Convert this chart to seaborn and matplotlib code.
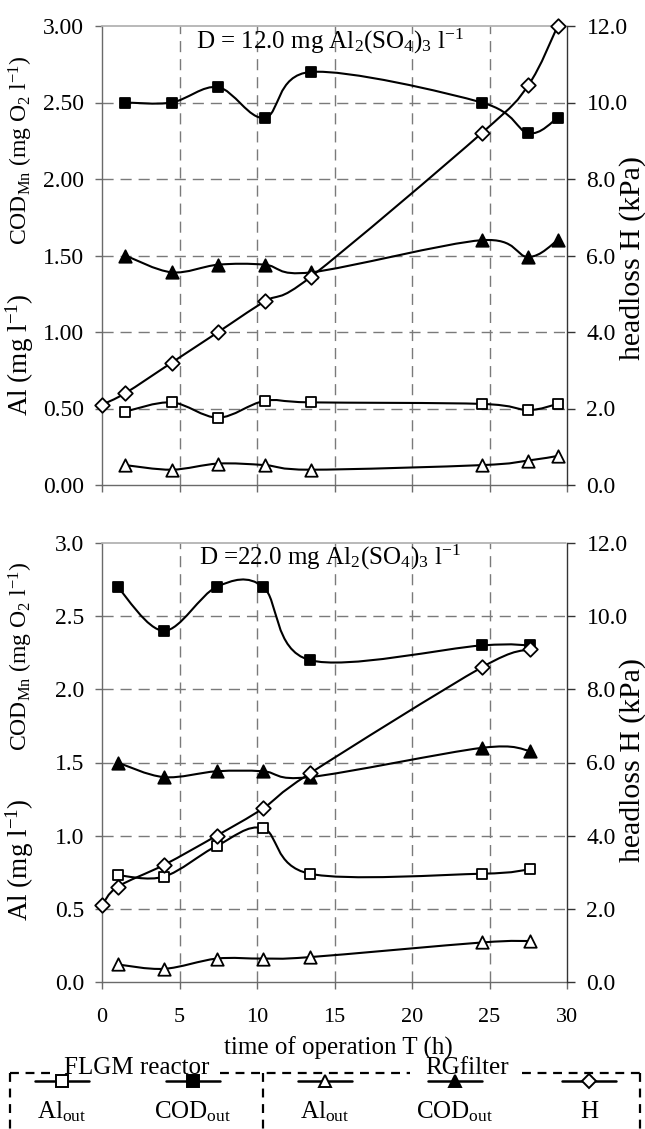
import numpy as np
import matplotlib
matplotlib.use("Agg")
import matplotlib.pyplot as plt
from matplotlib.path import Path
from matplotlib.patches import PathPatch
from matplotlib.ticker import FormatStrFormatter
import seaborn as sns

# ---------------- data ----------------
T_top = [1.5, 4.5, 7.5, 10.5, 13.5, 24.5, 27.5, 29.4]
H_T_top = [0.0, 1.5, 4.5, 7.5, 10.5, 13.5, 24.5, 27.5, 29.4]
al_flgm_top = [0.48, 0.54, 0.44, 0.55, 0.54, 0.53, 0.49, 0.53]
cod_flgm_top = [2.50, 2.50, 2.60, 2.40, 2.70, 2.50, 2.30, 2.40]
al_rg_top = [0.13, 0.10, 0.14, 0.13, 0.10, 0.13, 0.16, 0.19]
cod_rg_top = [1.50, 1.39, 1.44, 1.44, 1.39, 1.60, 1.49, 1.60]
H_top = [2.1, 2.4, 3.2, 4.0, 4.8, 5.45, 9.2, 10.45, 12.0]

T_bot = [1.0, 4.0, 7.4, 10.4, 13.4, 24.5, 27.6]
H_T_bot = [0.0, 1.0, 4.0, 7.4, 10.4, 13.4, 24.5, 27.6]
al_flgm_bot = [0.73, 0.72, 0.93, 1.05, 0.74, 0.74, 0.77]
cod_flgm_bot = [2.70, 2.40, 2.70, 2.70, 2.20, 2.30, 2.30]
al_rg_bot = [0.12, 0.09, 0.16, 0.16, 0.17, 0.27, 0.28]
cod_rg_bot = [1.50, 1.40, 1.44, 1.44, 1.40, 1.60, 1.58]
H_bot = [2.1, 2.6, 3.2, 4.0, 4.75, 5.7, 8.6, 9.1]

x_ticks = [0, 5, 10, 15, 20, 25, 30]
left_ticks = [0.0, 0.5, 1.0, 1.5, 2.0, 2.5, 3.0]
right_ticks = [0, 2, 4, 6, 8, 10, 12]
titles = ["D = 12.0 mg Al$_2$(SO$_4$)$_3$ l$^{-1}$", "D =22.0 mg Al$_2$(SO$_4$)$_3$ l$^{-1}$"]
label_cod = "COD$_{Mn}$ (mg O$_2$ l$^{-1}$)"
label_al = "Al (mg l$^{-1}$)"
label_h = "headloss H (kPa)"
label_x = "time of operation T (h)"

# ---------------- style ----------------
sns.set_theme(style="white")
plt.rcParams["font.family"] = ["Liberation Serif", "DejaVu Serif"]
plt.rcParams["mathtext.default"] = "regular"
plt.rcParams["text.color"] = "black"
plt.rcParams["xtick.color"] = "black"
plt.rcParams["ytick.color"] = "black"

W, H = 645, 1129
fig = plt.figure(figsize=(W / 100, H / 100), dpi=100)


def fx(x):
    return x / W


def fy(y):
    return 1 - y / H


def smooth(ax, xs, ys, lw=1.5):
    P = np.column_stack([xs, ys]).astype(float)
    n = len(P)
    verts = [P[0]]
    codes = [Path.MOVETO]
    for i in range(n - 1):
        p0 = P[i - 1] if i > 0 else P[i]
        p1, p2 = P[i], P[i + 1]
        p3 = P[i + 2] if i + 2 < n else P[i + 1]
        verts += [p1 + (p2 - p0) / 6.0, p2 - (p3 - p1) / 6.0, p2]
        codes += [Path.CURVE4] * 3
    ax.add_patch(PathPatch(Path(verts, codes), fill=False, edgecolor="black",
                           lw=lw, zorder=2, capstyle="round", joinstyle="round"))


def markers(ax, xs, ys, marker, filled, s):
    sns.scatterplot(x=xs, y=ys, marker=marker, s=s,
                    color="black" if filled else "white",
                    edgecolor="black", linewidth=1.3, ax=ax, zorder=4, clip_on=False)


def panel(rect, data, fmt, title, ty, show_x):
    T, HT, alf, codf, alr, codr, hh = data
    ax = fig.add_axes(rect)
    ax2 = ax.twinx()
    ax.set_xlim(0, 30)
    ax.set_ylim(0, 3)
    ax2.set_ylim(0, 12)
    ax.set_xticks(x_ticks)
    ax.set_yticks(left_ticks)
    ax2.set_yticks(right_ticks)
    ax.yaxis.set_major_formatter(FormatStrFormatter(fmt))
    ax2.yaxis.set_major_formatter(FormatStrFormatter("%.1f"))
    gl = dict(color="#7a7a7a", lw=1.0, ls=(0, (8, 5)))
    ax.grid(True, **gl)
    xt = ax.xaxis.get_major_ticks()
    xt[0].gridline.set_visible(False)
    xt[-1].gridline.set_visible(False)
    yt = ax.yaxis.get_major_ticks()
    yt[0].gridline.set_visible(False)
    yt[-1].gridline.set_visible(False)
    ax.set_axisbelow(True)

    for sp in ["left", "bottom"]:
        ax.spines[sp].set_color("#6a6a6a")
        ax.spines[sp].set_linewidth(1.0)
    ax.spines["top"].set_color("#b0b0b0")
    ax.spines["top"].set_linestyle((0, (1, 1)))
    ax.spines["right"].set_visible(False)
    for sp in ["left", "bottom", "top"]:
        ax2.spines[sp].set_visible(False)
    ax2.spines["right"].set_color("#333333")
    ax2.spines["right"].set_linewidth(1.0)

    ax.tick_params(axis="y", direction="out", length=5, width=1, color="#6a6a6a",
                   labelcolor="black", labelsize=17, pad=8, left=True)
    ax.tick_params(axis="x", direction="out", length=5, width=1, color="#6a6a6a",
                   labelcolor="black", labelsize=16, pad=14, bottom=True,
                   labelbottom=show_x)
    ax2.tick_params(axis="y", direction="out", length=6, width=1, color="#333333",
                    labelcolor="black", labelsize=17, pad=8, right=True)
    ax.set_xlabel("")
    ax.set_ylabel("")

    smooth(ax, T, codf)
    smooth(ax, T, codr)
    smooth(ax, T, alf)
    smooth(ax, T, alr)
    smooth(ax2, HT, hh)
    markers(ax, T, codf, "s", True, 60)
    markers(ax, T, alf, "s", False, 60)
    markers(ax, T, codr, "^", True, 80)
    markers(ax, T, alr, "^", False, 80)
    markers(ax2, HT, hh, "D", False, 55)
    ax2.set_ylabel("")
    fig.text(fx(330), fy(ty), title, ha="center", va="center", fontsize=18)
    return ax, ax2


top_rect = [fx(102), fy(485), fx(567) - fx(102), fy(26) - fy(485)]
bot_rect = [fx(102), fy(982), fx(567) - fx(102), fy(543) - fy(982)]
panel(top_rect, (T_top, H_T_top, al_flgm_top, cod_flgm_top, al_rg_top, cod_rg_top, H_top),
      "%.2f", titles[0], 41, False)
panel(bot_rect, (T_bot, H_T_bot, al_flgm_bot, cod_flgm_bot, al_rg_bot, cod_rg_bot, H_bot),
      "%.1f", titles[1], 557, True)

# axis labels
for cy_cod, cy_al, cy_h in [(150, 355, 258), (656, 860, 760)]:
    fig.text(fx(21), fy(cy_cod), label_cod, rotation=90, ha="center", va="center", fontsize=17)
    fig.text(fx(20), fy(cy_al), label_al, rotation=90, ha="center", va="center", fontsize=19.5)
    fig.text(fx(633), fy(cy_h), label_h, rotation=90, ha="center", va="center", fontsize=21.5)
fig.text(fx(338), fy(1048), label_x, ha="center", va="center", fontsize=18)

# ---------------- legend ----------------
lg = fig.add_axes([0, 0, 1, 1])
lg.set_xlim(0, W)
lg.set_ylim(H, 0)
lg.axis("off")
lg.patch.set_visible(False)
dash = dict(color="black", lw=1.6, ls=(0, (4, 3)))
ytop = 1073
lg.plot([10, 10], [ytop, H], **dash)
lg.plot([640, 640], [ytop, H], **dash)
lg.plot([263, 263], [ytop, H], **dash)
lg.plot([10, 55], [ytop, ytop], **dash)
lg.plot([220, 410], [ytop, ytop], **dash)
lg.plot([522, 640], [ytop, ytop], **dash)
lg.text(137, 1068, "FLGM reactor", ha="center", va="center", fontsize=18)
lg.text(467, 1068, "RGfilter", ha="center", va="center", fontsize=18)

entries = [(62, "s", "white", "Al$_{out}$"), (193, "s", "black", "COD$_{out}$"),
           (325, "^", "white", "Al$_{out}$"), (455, "^", "black", "COD$_{out}$"),
           (589, "D", "white", "H")]
for cx, mk, fc, lab in entries:
    lg.plot([cx - 27, cx + 27], [1081, 1081], color="black", lw=1.8)
    lg.plot([cx], [1081], marker=mk, markersize=8 if mk != "D" else 7,
            markerfacecolor=fc, markeredgecolor="black", markeredgewidth=1.4)
    lg.text(cx, 1112, lab, ha="center", va="center", fontsize=18)

fig.savefig("out.png", dpi=100)
